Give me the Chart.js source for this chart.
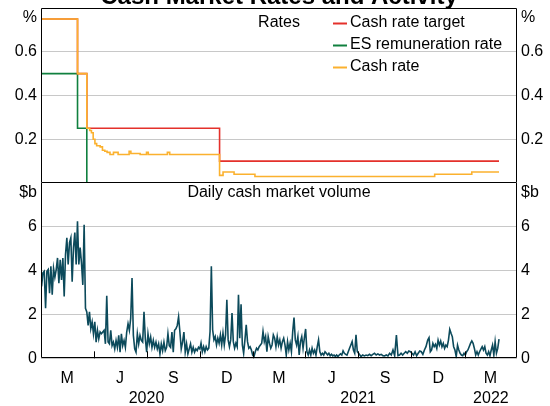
<!DOCTYPE html>
<html>
<head>
<meta charset="utf-8">
<script src="https://cdn.jsdelivr.net/npm/chart.js@4.4.1/dist/chart.umd.min.js"></script>
<style>
  html, body { margin: 0; padding: 0; background: #fff; }
  #wrap { position: relative; width: 550px; height: 406px; overflow: hidden; }
  #wrap canvas { position: absolute; left: 0; }
  #rates { top: 0; }
  #volume { top: 183px; }
</style>
</head>
<body>
<div id="wrap">
  <canvas id="rates" width="550" height="183"></canvas>
  <canvas id="volume" width="550" height="223"></canvas>
</div>
<script>
var chartTitle = 'Cash Market Rates and Activity';

// rates, % -- each value holds from its date until the next date
var targetDates = ['2020-01-01', '2020-03-04', '2020-03-20', '2020-11-04', '2022-03-01'];
var targetRate = [0.75, 0.5, 0.25, 0.1, 0.1];

var esDates = ['2020-01-01', '2020-03-04', '2020-03-20', '2022-03-01'];
var esRate = [0.5, 0.25, 0, 0];

var cashDates = ['2020-01-01', '2020-03-04', '2020-03-20', '2020-03-25', '2020-03-28', '2020-03-31',
  '2020-04-03', '2020-04-06', '2020-04-12', '2020-04-16', '2020-04-20', '2020-04-24', '2020-04-29',
  '2020-05-05', '2020-05-13', '2020-06-01', '2020-06-04', '2020-06-20', '2020-07-01', '2020-07-04',
  '2020-08-06', '2020-08-10', '2020-11-04', '2020-11-10', '2020-11-29', '2021-01-04', '2021-11-10',
  '2022-01-13', '2022-03-01'];
var cashRate = [0.75, 0.5, 0.25, 0.24, 0.23, 0.2,
  0.18, 0.17, 0.165, 0.15, 0.145, 0.14, 0.13,
  0.14, 0.13, 0.145, 0.135, 0.13, 0.14, 0.13,
  0.14, 0.13, 0.035, 0.05, 0.04, 0.03, 0.04,
  0.05, 0.05];

// daily cash market volume, $b -- observations spread evenly over each span
var volSpans = [['2020-01-02', '2020-10-01'], ['2020-10-03', '2021-07-04'], ['2021-07-06', '2021-09-02'],
  ['2021-09-05', '2021-10-26'], ['2021-10-29', '2022-03-01']];
var volA = [3.28, 3.9, 3.97, 2.28, 3.97, 4.05, 2.97, 4.2, 2.9, 4.1,
  3.7, 4.05, 4.58, 3.43, 4.5, 3.58, 4.58, 2.82, 4.74, 5.5,
  4.28, 5.28, 5.5, 3.5, 5.05, 5.74, 4.28, 6.25, 4.28, 5.05,
  4.35, 3.35, 6.09, 2.28, 2.12, 1.5, 2.12, 1.35, 1.66, 1.12,
  1.66, 0.74, 1.28, 0.89, 1.2, 1.12, 1.2, 1.28, 0.66, 2.85,
  0.74, 0.66, 1.28, 0.58, 0.74, 0.43, 0.82, 0.5, 1.05, 0.28,
  1.12, 0.58, 0.82, 0.5, 1.2, 1.58, 1.28, 1.82, 3.66, 1.05,
  0.43, 0.28, 1.12, 0.66, 1.05, 0.82, 0.74, 2.12, 0.89, 0.28,
  1.12, 0.66, 0.97, 0.5, 0.82, 0.5, 0.74, 0.43, 0.66, 0.2,
  0.66, 0.35, 0.74, 0.35, 0.5, 1.12, 0.58, 0.5, 1.2, 0.28,
  1.28, 1.35, 1.5, 1.89, 1.2, 0.43, 0.74, 1.2, 0.28, 0.66,
  0.2, 0.43, 0.66, 0.28, 0.5, 0.28, 0.43, 0.35, 0.5, 0.43];
var volB = [0.69, 0.3, 0.53, 0.3, 0.53, 0.38, 0.46, 1.22, 4.2, 1.3,
  0.84, 0.99, 0.61, 0.92, 0.69, 1.07, 0.61, 1.15, 0.61, 1.07,
  2.67, 0.84, 0.53, 0.84, 2.06, 0.76, 0.46, 0.69, 0.53, 2.9,
  0.92, 2.47, 0.61, 0.23, 0.84, 1.53, 0.76, 0.46, 0.53, 0.38,
  0.15, 0.08, 0.3, 0.46, 0.38, 0.53, 0.61, 0.69, 1.22, 0.76,
  0.99, 0.3, 0.99, 0.69, 0.46, 0.61, 1.07, 0.92, 0.53, 0.99,
  0.61, 0.84, 0.46, 0.76, 0.92, 0.61, 0.15, 0.76, 0.38, 0.69,
  0.3, 1.22, 1.86, 0.84, 0.61, 0.99, 0.15, 0.76, 0.99, 0.46,
  0.92, 1.34, 0.3, 0.15, 0.38, 0.15, 0.46, 0.23, 0.38, 0.15,
  0.53, 0.84, 0.3, 0.15, 0.23, 0.15, 0.3, 0.23, 0.15, 0.23,
  0.11, 0.18, 0.11, 0.15, 0.08, 0.15, 0.08, 0.15, 0.2, 0.15,
  0.34, 0.23, 0.18, 0.15, 0.3, 0.46, 0.61, 0.76, 0.38, 0.23,
  1.07, 0.3, 0.23, 0.15];
var volC = [0.08, 0.15, 0.11, 0.15, 0.12, 0.18, 0.12, 0.18, 0.23, 0.15,
  0.2, 0.15, 0.18, 0.12, 0.11, 0.15, 0.11, 0.23, 0.15, 0.38, 0.12];
var volD = [1.06, 0.12, 0.15, 0.23, 0.15, 0.23, 0.3, 0.23, 0.33, 0.3,
  0.23, 0.15, 0.3, 0.12, 0.23, 0.33, 0.3, 0.18, 0.38, 0.53];
var volE = [0.83, 0.94, 0.3, 0.38, 0.68, 0.53, 0.64, 0.45, 0.83, 0.6,
  0.79, 0.53, 0.68, 0.45, 0.6, 0.53, 0.83, 1.32, 1.14, 0.98,
  0.53, 0.38, 0.08, 0.6, 0.38, 0.23, 0.15, 0.12, 0.23, 0.15,
  0.3, 0.38, 0.53, 0.68, 0.79, 0.68, 0.45, 0.15, 0.3, 0.15,
  0.3, 0.42, 0.53, 0.38, 0.53, 0.23, 0.15, 0.3, 0.12, 0.38,
  0.6, 0.15, 0.76, 0.23, 0.45, 0.88];

// x axis: quarter boundaries carry the tick marks, label sits over the quarter before
var quarterEnds = ['2020-04-01', '2020-07-01', '2020-10-01', '2021-01-01', '2021-04-01',
  '2021-07-01', '2021-10-01', '2022-01-01', '2022-04-01'];
var quarterLabels = ['M', 'J', 'S', 'D', 'M', 'J', 'S', 'D', 'M'];
var yearCentres = ['2020-07-01', '2021-07-01', '2022-02-15'];
var yearLabels = ['2020', '2021', '2022'];

var RED = '#e4312b', GREEN = '#10803f', ORANGE = '#fbb12e', TEAL = '#0c4a5b', GRID = '#c8c8c8';
var FONT = 'Arial, "Liberation Sans", sans-serif';

Chart.defaults.font.family = FONT;
Chart.defaults.font.size = 16;
Chart.defaults.color = '#000';

function toTime(d) { return new Date(d).getTime(); }
var xMin = toTime('2020-01-01'), xMax = toTime('2022-04-01');

function points(dates, values) {
  return dates.map(function (d, i) { return { x: toTime(d), y: values[i] }; });
}

var volParts = [volA, volB, volC, volD, volE];
var volumePoints = [];
volSpans.forEach(function (span, k) {
  var vals = volParts[k], t0 = toTime(span[0]), t1 = toTime(span[1]);
  vals.forEach(function (v, i) {
    volumePoints.push({ x: t0 + (t1 - t0) * i / (vals.length - 1), y: v });
  });
});

function lineSet(label, data, color, order, stepped) {
  return { label: label, data: data, borderColor: color, backgroundColor: color, borderWidth: 1.6,
    pointRadius: 0, fill: false, stepped: stepped, order: order, tension: 0 };
}

function noPadding(s) {
  s.paddingTop = 0; s.paddingBottom = 0; s.paddingLeft = 0; s.paddingRight = 0;
}

// box around the plot area
function framePlugin(skipTop) {
  return {
    id: 'frame',
    afterDatasetsDraw: function (chart) {
      var a = chart.chartArea, ctx = chart.ctx;
      var l = Math.round(a.left) + 0.5, r = Math.round(a.right) - 0.5;
      var t = Math.round(a.top) + 0.5, b = Math.round(a.bottom) - 0.5;
      ctx.save();
      ctx.strokeStyle = '#000';
      ctx.lineWidth = 1;
      ctx.beginPath();
      if (skipTop) {
        ctx.moveTo(l, a.top); ctx.lineTo(l, b); ctx.lineTo(r, b); ctx.lineTo(r, a.top);
      } else {
        ctx.rect(l, t, r - l, b - t);
      }
      ctx.stroke();
      ctx.restore();
    }
  };
}

function yAxis(pos, max, step, fmt, grid) {
  return {
    type: 'linear', position: pos, min: 0, max: max,
    afterFit: function (s) { s.width = pos === 'left' ? 41 : 33; noPadding(s); },
    border: { display: false },
    grid: { display: grid, drawTicks: false, color: GRID, lineWidth: 1 },
    ticks: {
      stepSize: step, padding: 4, color: '#000',
      callback: function (v) {
        if (v <= 1e-6 && max < 1) return null;
        if (Math.abs(v - max) < 1e-6) return null;
        return fmt(v);
      }
    }
  };
}

var ratesText = {
  id: 'ratesText',
  afterDraw: function (chart) {
    var ctx = chart.ctx, a = chart.chartArea;
    var cx = (a.left + a.right) / 2;
    ctx.save();
    ctx.fillStyle = '#000';
    ctx.font = 'bold 24px ' + FONT;
    ctx.textAlign = 'center';
    ctx.textBaseline = 'alphabetic';
    ctx.fillText(chartTitle, cx, 4);

    ctx.font = '16px ' + FONT;
    ctx.textBaseline = 'middle';
    ctx.fillText('Rates', cx, 23);

    var rows = [['Cash rate target', RED], ['ES remuneration rate', GREEN], ['Cash rate', ORANGE]];
    rows.forEach(function (row, i) {
      var y = 23 + i * 22;
      ctx.strokeStyle = row[1];
      ctx.lineWidth = 2;
      ctx.beginPath();
      ctx.moveTo(cx + 54, y + 0.5);
      ctx.lineTo(cx + 68, y + 0.5);
      ctx.stroke();
      ctx.textAlign = 'left';
      ctx.fillText(row[0], cx + 71, y);
    });

    ctx.textAlign = 'right';
    ctx.fillText('%', a.left - 4, a.top + 10);
    ctx.textAlign = 'left';
    ctx.fillText('%', a.right + 4, a.top + 10);
    ctx.restore();
  }
};

var volumeText = {
  id: 'volumeText',
  afterDraw: function (chart) {
    var ctx = chart.ctx, a = chart.chartArea;
    var cx = (a.left + a.right) / 2;
    ctx.save();
    ctx.fillStyle = '#000';
    ctx.font = '16px ' + FONT;
    ctx.textBaseline = 'middle';
    ctx.textAlign = 'center';
    ctx.fillText('Daily cash market volume', cx, a.top + 10);
    ctx.textAlign = 'right';
    ctx.fillText('$b', a.left - 4, a.top + 10);
    ctx.textAlign = 'left';
    ctx.fillText('$b', a.right + 4, a.top + 10);

    // quarter tick marks, pointing up into the plot
    var xs = chart.scales.x;
    ctx.strokeStyle = '#000';
    ctx.lineWidth = 1;
    ctx.beginPath();
    quarterEnds.slice(0, -1).forEach(function (d) {
      var px = Math.round(xs.getPixelForValue(toTime(d))) + 0.5;
      ctx.moveTo(px, a.bottom);
      ctx.lineTo(px, a.bottom - 7);
    });
    ctx.stroke();
    ctx.restore();
  }
};

new Chart(document.getElementById('rates'), {
  type: 'line',
  data: {
    datasets: [
      lineSet('Cash rate target', points(targetDates, targetRate), RED, 1, 'before'),
      lineSet('ES remuneration rate', points(esDates, esRate), GREEN, 2, 'before'),
      lineSet('Cash rate', points(cashDates, cashRate), ORANGE, 0, 'before')
    ]
  },
  options: {
    responsive: false,
    animation: false,
    layout: { padding: { top: 8, left: 0, right: 0, bottom: 0 } },
    plugins: { legend: { display: false }, tooltip: { enabled: false } },
    scales: {
      x: { type: 'linear', min: xMin, max: xMax, display: false },
      y: yAxis('left', 0.8, 0.2, function (v) { return v.toFixed(1); }, true),
      yR: yAxis('right', 0.8, 0.2, function (v) { return v.toFixed(1); }, false)
    }
  },
  plugins: [framePlugin(false), ratesText]
});

new Chart(document.getElementById('volume'), {
  type: 'line',
  data: {
    datasets: [lineSet('Daily cash market volume', volumePoints, TEAL, 0, false)]
  },
  options: {
    responsive: false,
    animation: false,
    layout: { padding: { top: 0, left: 0, right: 0, bottom: 0 } },
    plugins: { legend: { display: false }, tooltip: { enabled: false } },
    scales: {
      x: {
        type: 'linear', position: 'bottom', min: xMin, max: xMax, weight: 1,
        afterBuildTicks: function (s) {
          s.ticks = quarterEnds.map(function (d) { return { value: toTime(d) }; });
        },
        afterFit: function (s) { s.height = 29; noPadding(s); },
        grid: { display: false, drawTicks: false },
        border: { display: false },
        ticks: {
          autoSkip: false, maxRotation: 0, minRotation: 0, padding: 10.5, labelOffset: -26.5, color: '#000',
          callback: function (v, i) { return quarterLabels[i]; }
        }
      },
      year: {
        type: 'linear', position: 'bottom', min: xMin, max: xMax, weight: 2,
        afterBuildTicks: function (s) {
          s.ticks = yearCentres.map(function (d) { return { value: toTime(d) }; });
        },
        afterFit: function (s) { s.height = 18.7; noPadding(s); },
        grid: { display: false, drawTicks: false },
        border: { display: false },
        ticks: {
          autoSkip: false, maxRotation: 0, minRotation: 0, padding: 1.5, color: '#000',
          callback: function (v, i) { return yearLabels[i]; }
        }
      },
      y: yAxis('left', 8, 2, function (v) { return String(v); }, true),
      yR: yAxis('right', 8, 2, function (v) { return String(v); }, false)
    }
  },
  plugins: [framePlugin(true), volumeText]
});
</script>
</body>
</html>
